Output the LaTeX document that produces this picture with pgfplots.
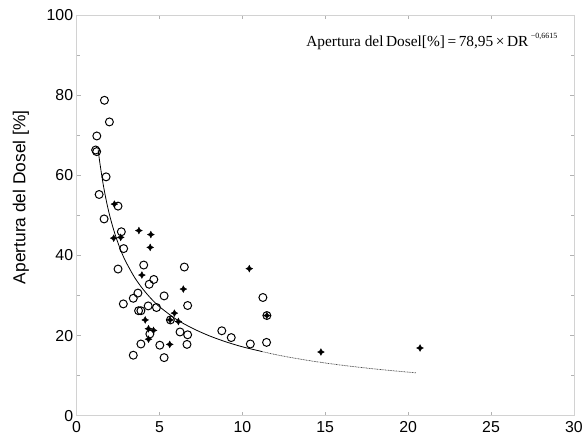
\documentclass[border=0pt]{standalone}
\usepackage{fontspec}
\setmainfont{Liberation Sans}
\newfontfamily\timesf{Liberation Serif}
\usepackage{pgfplots}
\pgfplotsset{compat=1.18}

% four-pointed star mark
\pgfdeclareplotmark{fourstar}{%
  \pgfpathmoveto{\pgfqpoint{0pt}{\pgfplotmarksize}}%
  \pgfpathlineto{\pgfqpoint{0.34\pgfplotmarksize}{0.34\pgfplotmarksize}}%
  \pgfpathlineto{\pgfqpoint{\pgfplotmarksize}{0pt}}%
  \pgfpathlineto{\pgfqpoint{0.34\pgfplotmarksize}{-0.34\pgfplotmarksize}}%
  \pgfpathlineto{\pgfqpoint{0pt}{-\pgfplotmarksize}}%
  \pgfpathlineto{\pgfqpoint{-0.34\pgfplotmarksize}{-0.34\pgfplotmarksize}}%
  \pgfpathlineto{\pgfqpoint{-\pgfplotmarksize}{0pt}}%
  \pgfpathlineto{\pgfqpoint{-0.34\pgfplotmarksize}{0.34\pgfplotmarksize}}%
  \pgfpathclose
  \pgfusepathqfillstroke
}

\begin{document}
\begin{tikzpicture}
\begin{axis}[
  name=ax,
  scale only axis, width=500bp, height=403bp,
  xmin=0, xmax=30, ymin=0, ymax=100,
  xtick={0,5,...,30}, ytick={0,20,...,100},
  minor y tick num=1,
  tick align=inside,
  major tick length=4bp, minor tick length=3bp,
  every tick/.style={gray!60, line width=0.5bp},
  axis line style={gray!35, line width=0.7bp},
  tick label style={font=\fontsize{16}{18}\selectfont},
  xticklabel style={yshift=-2bp},
  /pgf/number format/assume math mode=true,
  ylabel={Apertura del Dosel [\%]},
  ylabel style={font=\fontsize{17.5}{20}\selectfont, at={(axis description cs:-0.112,0.545)}, anchor=center},
  clip=false,
]
% fitted curve, solid part
\addplot[black, line width=0.8bp, smooth] coordinates {
(1.3,66.4) (1.4,63.2) (1.6,57.85) (1.8,53.5) (2.0,49.9) (2.25,46.2) (2.5,43.1)
(2.75,40.4) (3,38.2) (3.5,34.5) (4,31.6) (4.5,29.2) (5,27.2) (6,24.1)
(7,21.8) (8,19.95) (9,18.45) (10,17.2) (11,16.2) (11.2,16.0)
};
% fitted curve, dotted part
\addplot[black!70, line width=0.7bp, dash pattern=on 0.9bp off 0.7bp, smooth] coordinates {
(11.2,16.0) (12,15.26) (13,14.47) (14,13.78) (15,13.16) (16,12.61) (17,12.12)
(18,11.67) (19,11.26) (20,10.88) (20.5,10.7)
};
% open circles
\addplot[only marks, mark=o, mark size=4bp, line width=1bp, black] coordinates {
(1.68,78.7) (1.98,73.3) (1.22,69.8) (1.15,66.3) (1.21,65.9) (1.78,59.6)
(1.36,55.2) (2.50,52.3) (1.66,49.1) (2.70,45.9) (2.84,41.7) (2.50,36.6)
(4.05,37.6) (6.50,37.1) (4.66,34.0) (4.38,32.8) (5.28,29.9) (3.70,30.6)
(3.42,29.3) (2.82,27.9) (6.70,27.5) (4.32,27.4) (4.82,27.0) (3.74,26.2)
(3.88,26.2) (5.66,23.9) (4.42,20.4) (6.24,20.9) (6.70,20.2) (8.76,21.2)
(9.33,19.5) (3.88,17.9) (5.02,17.6) (6.66,17.8) (3.42,15.1) (5.28,14.5)
(11.24,29.5) (11.48,25.0) (10.48,17.9) (11.46,18.3)
};
% stars
\addplot[only marks, mark=fourstar, mark size=3.4bp, line width=0.4bp, black] coordinates {
(2.28,52.8) (3.76,46.2) (4.48,45.2) (2.24,44.3) (2.66,44.5) (4.44,42.0)
(3.94,35.1) (6.44,31.6) (4.14,23.9) (5.90,25.6) (5.64,23.9) (6.14,23.5)
(4.34,21.7) (4.64,21.3) (4.34,19.1) (5.62,17.8) (10.42,36.7) (11.48,25.0)
(14.74,15.9) (20.72,16.9)
};
\node[anchor=west, inner sep=0pt, font=\timesf\fontsize{15.5}{18}\selectfont]
  at (axis cs:13.85,93.3)
  {Apertura del\,Dosel[\%]\,=\,78,95\,×\,DR\,\raisebox{0.55em}{\fontsize{8}{9}\selectfont −0,6615}};
\end{axis}
\path[use as bounding box] ([xshift=-77bp,yshift=-23bp]ax.south west) rectangle ([xshift=9bp,yshift=15bp]ax.north east);
\end{tikzpicture}
\end{document}
